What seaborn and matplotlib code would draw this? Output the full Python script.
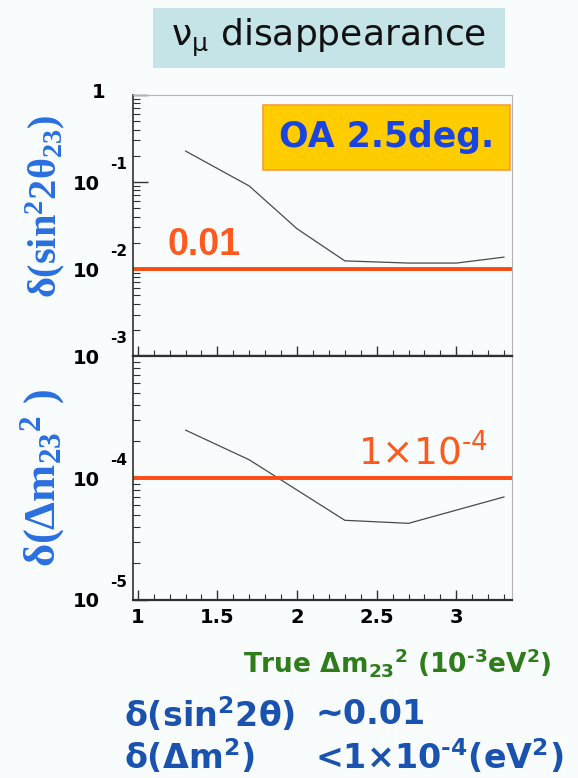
#!/usr/bin/env python3
"""
nu_mu disappearance sensitivity, OA 2.5 deg.
Two stacked log panels: delta(sin^2 2theta_23) and delta(dm^2_23) vs true dm^2_23.
"""

import matplotlib
matplotlib.use("Agg")
import matplotlib.pyplot as plt
import matplotlib.transforms as mtransforms
from matplotlib.patches import Rectangle
from matplotlib.ticker import MultipleLocator, LogLocator, NullFormatter, FixedLocator
import seaborn as sns

# ------------------------------------------------------------------
# Data
# ------------------------------------------------------------------
dm2_sin = [1.3, 1.7, 2.0, 2.3, 2.7, 3.0, 3.3]
err_sin2 = [0.227, 0.090, 0.029, 0.0124, 0.0117, 0.0117, 0.0137]

dm2_dm = [1.3, 1.7, 2.3, 2.7, 3.3]
err_dm2 = [2.47e-4, 1.41e-4, 4.5e-5, 4.25e-5, 7.0e-5]

goal_sin2 = 0.01
goal_dm2 = 1e-4

x_ticks = [1, 1.5, 2, 2.5, 3]
x_tick_labels = ["1", "1.5", "2", "2.5", "3"]
top_y_ticks = [1, 1e-1, 1e-2, 1e-3]
top_y_exps = ["", "-1", "-2", "-3"]
bot_y_ticks = [1e-4, 1e-5]
bot_y_exps = ["-4", "-5"]

# ------------------------------------------------------------------
# Style
# ------------------------------------------------------------------
sns.set_style("ticks")
plt.rcParams["font.family"] = ["DejaVu Sans"]
plt.rcParams["mathtext.default"] = "regular"
plt.rcParams["text.color"] = "black"

BG = "#f8fcfd"
RED = "#ff4a12"
DARK = "#303030"
LIGHT = "#b4b4b4"
TICKFONT = dict(family="DejaVu Sans", weight="bold", size=14, color="black")
SERIF = ["Liberation Serif", "DejaVu Serif"]
ARIAL = ["Liberation Sans", "DejaVu Sans"]

fig = plt.figure(figsize=(5.78, 7.78), dpi=100)
fig.patch.set_facecolor(BG)

ax1 = fig.add_axes([0.230, 0.5424, 0.656, 0.3355])
ax2 = fig.add_axes([0.230, 0.2288, 0.656, 0.3136])

for ax in (ax1, ax2):
    ax.set_facecolor(BG)
    ax.set_yscale("log")
    ax.set_xlim(0.97, 3.35)
    ax.xaxis.set_major_locator(MultipleLocator(0.5))
    ax.xaxis.set_minor_locator(MultipleLocator(0.1))
    ax.yaxis.set_minor_locator(LogLocator(base=10, subs=range(2, 10)))
    ax.yaxis.set_minor_formatter(NullFormatter())
    ax.tick_params(axis="y", which="major", direction="in", length=11, width=1.0,
                   color=DARK, right=False, pad=24)
    ax.tick_params(axis="y", which="minor", direction="in", length=5, width=0.8,
                   color=DARK, right=False)
    ax.tick_params(axis="x", which="major", direction="in", length=7, width=1.0,
                   color=DARK, top=False, pad=6)
    ax.tick_params(axis="x", which="minor", direction="in", length=4.5, width=0.8,
                   color=DARK, top=False)
    ax.spines["left"].set_color(DARK)
    ax.spines["left"].set_linewidth(1.2)
    ax.spines["bottom"].set_color(DARK)
    ax.spines["bottom"].set_linewidth(1.6)
    ax.spines["right"].set_color(LIGHT)
    ax.spines["top"].set_color(LIGHT)

# ------------------------------------------------------------------
# Top panel: delta(sin^2 2theta)
# ------------------------------------------------------------------
ax1.set_ylim(1e-3, 1)
sns.lineplot(x=dm2_sin, y=err_sin2, ax=ax1, color="#4a4a4a", lw=0.9, sort=False)
ax1.axhline(goal_sin2, color=RED, lw=2.8)
ax1.yaxis.set_major_locator(FixedLocator(top_y_ticks))
ax1.set_yticklabels(["" if t == 1 else "10" for t in top_y_ticks], fontdict=TICKFONT)
ax1.set_xticks(x_ticks)
ax1.set_xticklabels([])

ax1.text(1.19, 0.0118, "0.01", color="#ff5a1e", fontsize=27, fontweight="bold",
         family=ARIAL, ha="left", va="bottom")

ax1.add_patch(Rectangle((0.343, 0.713), 0.652, 0.249, transform=ax1.transAxes,
                        facecolor="#ffcc00", edgecolor="#ff9a40", lw=1.2, zorder=5))
ax1.text(0.669, 0.8375, "OA 2.5deg.", transform=ax1.transAxes, color="#1a44e0",
         fontsize=25, fontweight="bold", ha="center", va="center", zorder=6)

# ------------------------------------------------------------------
# Bottom panel: delta(dm^2)
# ------------------------------------------------------------------
ax2.set_ylim(1e-5, 1e-3)
sns.lineplot(x=dm2_dm, y=err_dm2, ax=ax2, color="#4a4a4a", lw=0.9, sort=False)
ax2.axhline(goal_dm2, color=RED, lw=2.8)
ax2.yaxis.set_major_locator(FixedLocator(bot_y_ticks))
ax2.set_yticklabels(["10" for _ in bot_y_ticks], fontdict=TICKFONT)
ax2.set_xticks(x_ticks)
ax2.set_xticklabels(x_tick_labels, fontdict=TICKFONT)
ax2.spines["top"].set_color(DARK)
ax2.spines["top"].set_linewidth(1.6)

ax2.text(0.594, 0.525, "1×10$^{‐4}$", transform=ax2.transAxes, color="#ff5a1e",
         fontsize=27, ha="left", va="bottom")

# ROOT-style exponents and the lone "1" label
for ax, ticks, exps in ((ax1, top_y_ticks, top_y_exps), (ax2, bot_y_ticks, bot_y_exps)):
    blend = mtransforms.blended_transform_factory(ax.transAxes, ax.transData)
    for t, e in zip(ticks, exps):
        if e:
            ax.annotate(e, xy=(0, t), xycoords=blend, xytext=(-4, 7),
                        textcoords="offset points", ha="right", va="bottom",
                        fontsize=11, fontweight="bold", color="black",
                        annotation_clip=False)
blend1 = mtransforms.blended_transform_factory(ax1.transAxes, ax1.transData)
ax1.annotate("1", xy=(0, 1), xycoords=blend1, xytext=(-20, 2),
             textcoords="offset points", ha="right", va="center",
             fontsize=14, fontweight="bold", color="black", annotation_clip=False)

# ------------------------------------------------------------------
# Axis titles and annotations
# ------------------------------------------------------------------
fig.text(0.078, 0.735, "δ(sin$^2$2θ$_{23}$)", rotation=90, ha="center", va="center",
         fontsize=29, fontweight="bold", color="#2a6fe0", family=SERIF)
fig.text(0.074, 0.386, "δ(Δm$_{23}$$^2$ )", rotation=90, ha="center", va="center",
         fontsize=32, fontweight="bold", color="#2a6fe0", family=SERIF)

fig.text(0.688, 0.149, "True Δm$_{23}$$^2$ (10$^{‐3}$eV$^2$)", ha="center", va="center",
         fontsize=19, fontweight="bold", color="#2e7d1a")

fig.text(0.215, 0.081, "δ(sin$^2$2θ)", ha="left", va="center",
         fontsize=24, fontweight="bold", color="#1a52b0")
fig.text(0.545, 0.081, "~0.01", ha="left", va="center",
         fontsize=24, fontweight="bold", color="#1a52b0")
fig.text(0.215, 0.027, "δ(Δm$^2$)", ha="left", va="center",
         fontsize=24, fontweight="bold", color="#1a52b0")
fig.text(0.545, 0.027, "<1×10$^{‐4}$(eV$^2$)", ha="left", va="center",
         fontsize=24, fontweight="bold", color="#1a52b0")

# Title box
fig.patches.append(Rectangle((0.2647, 0.9126), 0.609, 0.0771, transform=fig.transFigure,
                             facecolor="#c4e4e8", edgecolor="none", zorder=0))
fig.text(0.569, 0.951, "ν$_μ$ disappearance", ha="center", va="center",
         fontsize=26, color="#111111")

plt.savefig("out.png", dpi=100, facecolor=BG)
plt.close()
